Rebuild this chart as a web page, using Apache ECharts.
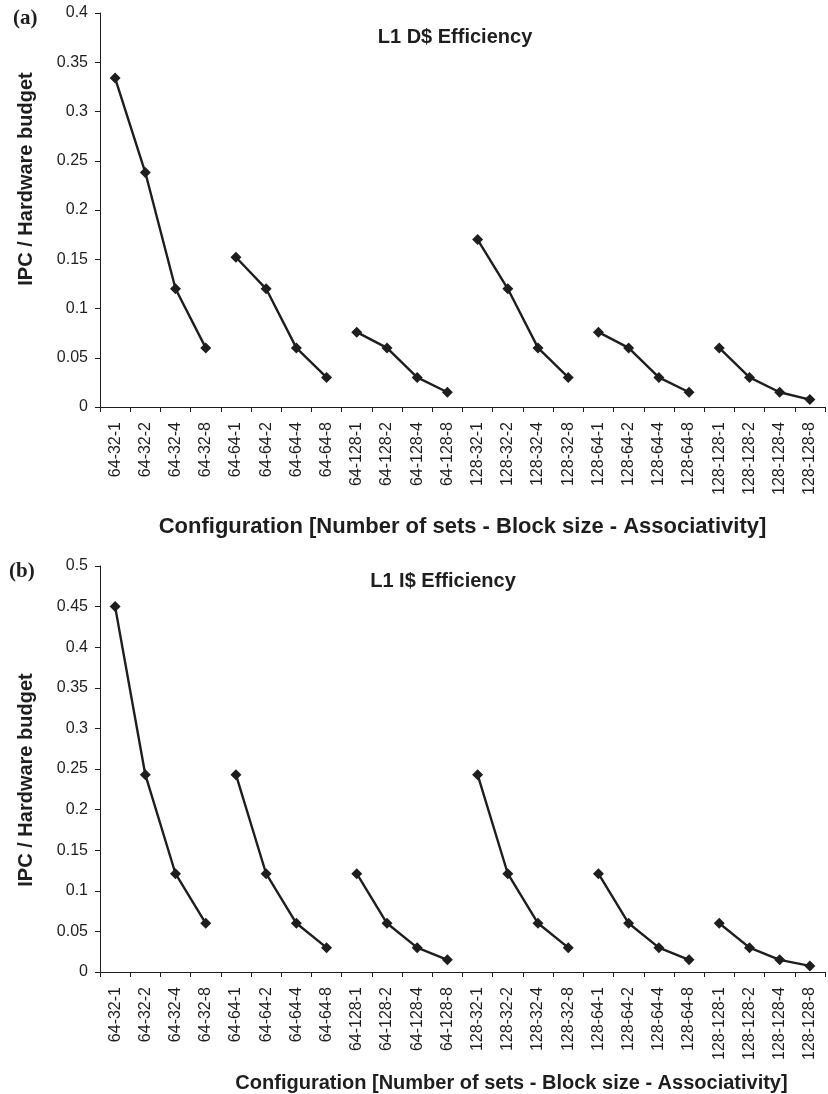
<!DOCTYPE html>
<html>
<head>
<meta charset="utf-8">
<script src="https://cdn.jsdelivr.net/npm/echarts@6/dist/echarts.min.js"></script>
<style>html,body{margin:0;padding:0;background:#fff;}#chart{width:828px;height:1094px;}</style>
</head>
<body>
<div id="chart"></div>
<script>
const categories = ['64-32-1','64-32-2','64-32-4','64-32-8','64-64-1','64-64-2','64-64-4','64-64-8','64-128-1','64-128-2','64-128-4','64-128-8','128-32-1','128-32-2','128-32-4','128-32-8','128-64-1','128-64-2','128-64-4','128-64-8','128-128-1','128-128-2','128-128-4','128-128-8'];
const dcacheEff = [0.334,0.238,0.12,0.06, 0.152,0.12,0.06,0.03, 0.076,0.06,0.03,0.015, 0.17,0.12,0.06,0.03, 0.076,0.06,0.03,0.015, 0.06,0.03,0.015,0.0075];
const icacheEff = [0.45,0.243,0.121,0.06, 0.243,0.121,0.06,0.03, 0.121,0.06,0.03,0.015, 0.243,0.121,0.06,0.03, 0.121,0.06,0.03,0.015, 0.06,0.03,0.015,0.0075];
const groupSize = 4;
const titleA = 'L1 D$ Efficiency';
const titleB = 'L1 I$ Efficiency';
const xName = 'Configuration [Number of sets - Block size - Associativity]';
const yName = 'IPC / Hardware budget';

const FONT = 'Liberation Sans, Arial, sans-serif';
const INK = '#1e1e1e';

function groupSeries(values, axisIdx) {
  const n = Math.ceil(values.length / groupSize);
  const out = [];
  for (let g = 0; g < n; g++) {
    out.push({
      type: 'line',
      xAxisIndex: axisIdx, yAxisIndex: axisIdx,
      data: values.map((v, i) => Math.floor(i / groupSize) === g ? v : '-'),
      symbol: 'diamond', symbolSize: 11,
      lineStyle: {color: INK, width: 2.4},
      itemStyle: {color: INK},
      silent: true, animation: false
    });
  }
  return out;
}

function xAxis(gridIndex, nameGap, nameSize, pad) {
  return {
    type: 'category', gridIndex, data: categories, boundaryGap: true,
    axisLine: {lineStyle: {color: INK, width: 1}},
    axisTick: {show: true, alignWithLabel: false, length: 5, lineStyle: {color: INK}},
    axisLabel: {interval: 0, rotate: 90, fontSize: 16, color: INK, fontFamily: FONT, margin: 15},
    name: xName, nameLocation: 'middle', nameGap,
    nameTextStyle: {fontSize: nameSize, fontWeight: 'bold', color: INK, fontFamily: FONT, padding: pad}
  };
}
function yAxis(gridIndex, max, pad) {
  return {
    type: 'value', gridIndex, min: 0, max, interval: 0.05,
    splitLine: {show: false},
    axisLine: {show: true, lineStyle: {color: INK, width: 1}},
    axisTick: {show: true, length: 5, lineStyle: {color: INK}},
    axisLabel: {fontSize: 16, color: INK, fontFamily: FONT, margin: 12},
    name: yName, nameLocation: 'middle', nameGap: 64, nameRotate: 90,
    nameTextStyle: {fontSize: 20, fontWeight: 'bold', color: INK, fontFamily: FONT, padding: pad}
  };
}

const chart = echarts.init(document.getElementById('chart'), null, {renderer: 'canvas'});
chart.setOption({
  backgroundColor: '#fff',
  animation: false,
  title: [
    {text: titleA, left: 450, top: 22, textAlign: 'center', textStyle: {fontSize: 20, fontWeight: 'bold', color: INK, fontFamily: FONT}},
    {text: titleB, left: 438, top: 566, textAlign: 'center', textStyle: {fontSize: 20, fontWeight: 'bold', color: INK, fontFamily: FONT}},
    {text: '(a)', left: 8, top: 3, textStyle: {fontSize: 21, fontWeight: 'bold', color: INK, fontFamily: 'Liberation Serif, Times New Roman, serif'}},
    {text: '(b)', left: 4, top: 556, textStyle: {fontSize: 21, fontWeight: 'bold', color: INK, fontFamily: 'Liberation Serif, Times New Roman, serif'}}
  ],
  grid: [
    {left: 100, top: 13, width: 725, height: 394},
    {left: 100, top: 566, width: 725, height: 406}
  ],
  xAxis: [xAxis(0, 109, 22, [0,0,0,0]), xAxis(1, 101, 20, [0,0,0,98])],
  yAxis: [yAxis(0, 0.4, [0,0,0,62]), yAxis(1, 0.5, [0,22,0,0])],
  series: [].concat(groupSeries(dcacheEff, 0), groupSeries(icacheEff, 1))
});
</script>
</body>
</html>
